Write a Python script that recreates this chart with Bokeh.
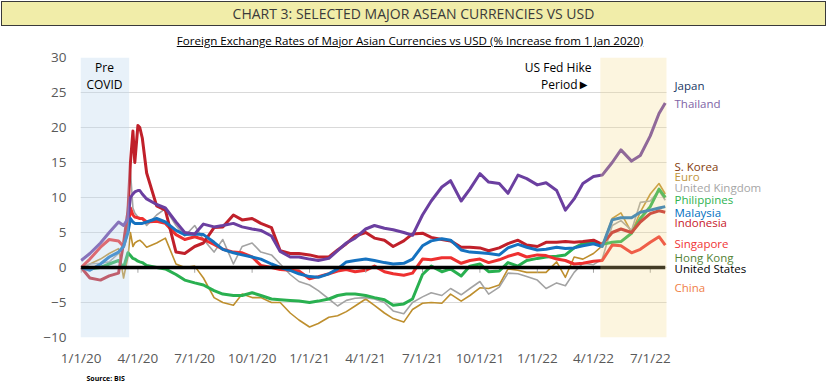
from datetime import datetime
import pandas as pd
from bokeh.plotting import figure
from bokeh.layouts import column
from bokeh.models import Range1d, FixedTicker, Label, BoxAnnotation, Div
from bokeh.embed import file_html
from bokeh.resources import INLINE

# ---------------- data ----------------
dates = ["2020-01-01", "2020-01-15", "2020-02-01", "2020-02-15", "2020-03-01", "2020-03-09",
         "2020-03-16", "2020-03-20", "2020-03-24", "2020-03-27", "2020-04-01", "2020-04-04",
         "2020-04-08", "2020-04-15",
         "2020-05-01", "2020-05-15", "2020-06-01", "2020-06-15", "2020-07-01", "2020-07-15",
         "2020-08-01", "2020-08-15", "2020-09-01", "2020-09-15", "2020-10-01", "2020-10-15",
         "2020-11-01", "2020-11-15", "2020-12-01", "2020-12-15", "2021-01-01", "2021-01-15",
         "2021-02-01", "2021-02-15", "2021-03-01", "2021-03-15", "2021-04-01", "2021-04-15",
         "2021-05-01", "2021-05-15", "2021-06-01", "2021-06-15", "2021-07-01", "2021-07-15",
         "2021-08-01", "2021-08-15", "2021-09-01", "2021-09-15", "2021-10-01", "2021-10-15",
         "2021-11-01", "2021-11-15", "2021-12-01", "2021-12-15", "2022-01-01", "2022-01-15",
         "2022-02-01", "2022-02-15", "2022-03-01", "2022-03-15", "2022-04-01", "2022-04-15",
         "2022-05-01", "2022-05-15", "2022-06-01", "2022-06-15", "2022-07-01", "2022-07-15",
         "2022-07-25"]

thailand = [1.0, 2.0, 3.5, 5.0, 6.5, 6.0, 7.0, 10.0, 10.5, 10.8, 11.0, 11.0, 10.5, 9.8, 9.0,
            8.5, 6.5, 5.0, 4.8, 6.2, 5.8, 6.0, 6.3, 5.8, 5.5, 5.3, 4.5, 2.3, 1.5, 1.5, 1.2, 1.0,
            1.3, 2.4, 3.5, 4.2, 5.5, 6.0, 5.6, 5.4, 5.0, 4.6, 7.5, 9.5, 11.5, 12.4, 9.5, 11.2,
            13.4, 12.2, 12.0, 10.6, 13.2, 12.7, 11.8, 12.1, 11.0, 8.2, 9.8, 12.0, 13.0, 13.2,
            15.0, 16.8, 15.2, 16.0, 18.8, 22.0, 23.5]
indonesia = [0.0, -1.5, -1.8, -1.2, -0.8, 3.5, 8.0, 15.0, 19.5, 15.0, 20.3, 20.0, 18.5, 13.5,
             8.8, 8.2, 2.2, 2.0, 3.0, 3.5, 5.7, 5.8, 7.5, 6.8, 7.0, 6.3, 5.7, 2.4, 2.0, 2.0, 1.8,
             1.5, 1.5, 2.5, 3.4, 4.5, 5.0, 4.2, 3.9, 3.0, 3.8, 4.8, 4.9, 4.3, 4.0, 3.8, 2.9, 2.9,
             2.8, 2.4, 2.8, 3.4, 3.9, 3.2, 3.0, 3.6, 3.6, 3.7, 3.6, 3.7, 3.9, 3.3, 5.0, 5.5, 5.0,
             6.5, 7.7, 8.1, 7.9]
malaysia = [0.0, -0.4, 0.5, 1.5, 2.2, 3.0, 5.0, 7.0, 6.5, 6.3, 6.3, 6.3, 6.3, 6.5, 7.0, 6.5, 5.3,
            4.7, 4.8, 4.7, 3.6, 2.6, 2.1, 1.8, 1.5, 1.2, 0.5, 0.0, -0.4, -0.9, -1.3, -1.4, -0.9,
            -0.2, 0.8, 1.0, 1.2, 1.0, 0.7, 0.5, 0.6, 1.2, 3.1, 3.8, 4.1, 3.9, 2.5, 2.2, 2.1, 2.0,
            1.8, 2.8, 3.3, 2.9, 2.5, 2.6, 2.9, 2.7, 2.8, 3.1, 3.4, 3.0, 6.8, 7.1, 7.1, 7.9, 8.2,
            8.5, 8.7]
singapore = [0.0, 1.2, 2.9, 4.0, 3.8, 3.0, 5.3, 8.5, 7.5, 7.2, 7.1, 7.0, 7.0, 6.5, 6.6, 6.3, 4.7,
             4.0, 4.4, 4.0, 3.3, 2.6, 2.2, 2.1, 1.5, 0.3, 0.0, -0.3, -0.4, -0.5, -1.6, -1.3,
             -0.9, -0.5, -0.3, -0.6, -0.4, 0.2, -0.6, -0.9, -1.1, -0.8, 1.2, 1.1, 1.4, 1.4, 0.6,
             1.0, 1.2, 0.7, 1.1, 1.6, 2.0, 1.5, 1.8, 1.7, 1.2, 1.0, 0.5, 0.6, 0.9, 1.0, 3.2, 3.1,
             2.1, 2.6, 3.6, 4.4, 3.2]
euro = [0.0, 0.5, 1.2, 2.0, 2.7, -1.5, 1.5, 5.0, 3.0, 3.5, 3.8, 3.9, 3.6, 2.9, 3.5, 4.2, 0.5,
        0.0, 0.2, -1.5, -4.3, -5.0, -5.4, -3.8, -4.3, -4.3, -5.0, -5.0, -6.5, -7.5, -8.5, -8.0,
        -7.1, -6.9, -6.3, -5.5, -4.5, -5.4, -6.5, -7.3, -7.8, -6.0, -5.1, -5.0, -5.1, -3.8,
        -4.8, -4.0, -2.9, -3.0, -2.5, -0.2, -0.4, -0.7, -0.7, -0.7, 0.8, -1.4, 1.5, 1.2, 2.0,
        3.1, 7.0, 7.8, 5.0, 7.9, 10.5, 12.0, 10.5]
uk = [0.0, 0.5, 0.6, 0.8, 2.0, 3.5, 9.0, 13.9, 8.5, 7.8, 7.2, 7.1, 7.0, 6.0, 7.5, 8.4, 6.0, 4.5,
      6.0, 4.0, 2.2, 4.0, 0.5, 3.0, 3.5, 2.2, 1.8, 0.5, -1.0, -2.0, -2.5, -3.3, -4.5, -5.5,
      -4.7, -4.4, -4.3, -4.5, -5.0, -6.2, -6.6, -5.0, -4.2, -3.6, -4.0, -3.0, -3.9, -3.0, -2.0,
      -3.8, -2.8, -0.8, -0.9, -1.3, -1.8, -3.0, -2.2, -2.6, -0.7, 0.6, 0.4, 1.2, 6.0, 6.7, 5.3,
      9.3, 9.5, 11.0, 9.6]
philippines = [0.0, -0.2, 0.0, 0.5, 1.0, 0.0, 2.1, 1.7, 1.3, 1.2, 0.9, 0.8, 0.7, 0.3, 0.0, -0.2,
               -1.0, -1.8, -2.2, -2.5, -3.3, -3.8, -4.0, -4.0, -3.6, -4.0, -4.5, -4.6, -4.7,
               -4.8, -5.0, -4.8, -4.5, -4.0, -3.8, -3.8, -4.0, -4.3, -4.6, -5.4, -5.2, -4.5,
               -1.0, 0.2, -0.6, -0.2, -1.2, 0.2, 0.5, -0.6, -0.5, 0.7, 0.2, 1.0, 1.3, 1.5, 1.6,
               1.8, 2.8, 3.4, 3.6, 3.3, 3.6, 3.7, 4.9, 7.0, 8.7, 11.2, 10.0]
us_dates = ["2020-01-01", "2022-07-25"]
united_states = [0.0, 0.0]

tick_dates = ["2020-01-01", "2020-04-01", "2020-07-01", "2020-10-01", "2021-01-01", "2021-04-01",
              "2021-07-01", "2021-10-01", "2022-01-01", "2022-04-01", "2022-07-01"]
tick_labels = ["1/1/20", "4/1/20", "7/1/20", "10/1/20", "1/1/21", "4/1/21", "7/1/21",
               "10/1/21", "1/1/22", "4/1/22", "7/1/22"]
y_ticks = [-10, -5, 0, 5, 10, 15, 20, 25, 30]

axis_start, axis_end = "2019-12-31", "2022-07-27"
pre_covid_end = "2020-03-18"
fed_hike_start = "2022-04-12"

legend_names = ["Japan", "Thailand", "S. Korea", "Euro", "United Kingdom", "Philippines",
                "Malaysia", "Indonesia", "Singapore", "Hong Kong", "United States", "China"]

title_text = "CHART 3: SELECTED MAJOR ASEAN CURRENCIES VS USD"
subtitle_text = ("Foreign Exchange Rates of Major Asian Currencies vs USD "
                 "(% Increase from 1 Jan 2020)")

# ---------------- helpers ----------------
def ms(s):
    return int(pd.Timestamp(s).value // 10**6)


def d(s):
    return datetime.fromisoformat(s)


dt = [d(s) for s in dates]
FONT = "Open Sans"
W = 831

# ---------------- header (title box + subtitle) ----------------
title_div = Div(text=title_text, width=825, height=25, margin=(1, 5, 0, 1),
                styles={"background-color": "#F1EDA9", "border": "1px solid #3A3A3A",
                        "box-sizing": "border-box", "text-align": "center",
                        "font-family": "Open Sans", "font-size": "14px",
                        "line-height": "23px", "color": "#3A3A3A", "overflow": "hidden"})
subtitle_div = Div(text="<u>" + subtitle_text + "</u>", width=W, height=23, margin=(0, 0, 0, 0),
                   styles={"text-align": "center", "font-family": "Open Sans",
                           "font-size": "11.6px", "line-height": "16px", "padding-top": "7px",
                           "padding-right": "11px", "box-sizing": "border-box",
                           "color": "#000000", "overflow": "hidden"})
HH = 49

# ---------------- main chart ----------------
MH = 320
FL, FT, FB, FR_DATA = 80, 57, 337, 666
frame_w = W - FL
x0, x1 = ms(axis_start), ms(axis_end)
x_end_full = x0 + (x1 - x0) * frame_w / (FR_DATA - FL)

p = figure(width=W, height=MH, x_axis_type="datetime", output_backend="svg",
           toolbar_location=None,
           min_border_left=FL, min_border_right=0, min_border_top=FT - HH,
           min_border_bottom=(HH + MH) - FB,
           x_range=Range1d(x0, x_end_full), y_range=Range1d(-10, 30))
p.outline_line_color = None
p.background_fill_color = "white"
p.border_fill_color = "white"
p.xgrid.grid_line_color = None
p.ygrid.grid_line_color = "#D9D9D9"
p.ygrid.grid_line_width = 1

p.yaxis.ticker = FixedTicker(ticks=y_ticks)
p.yaxis.axis_line_color = None
p.yaxis.major_tick_line_color = None
p.yaxis.minor_tick_line_color = None
p.yaxis.major_tick_out = 0
p.yaxis.major_tick_in = 0
p.yaxis.major_label_standoff = 14
p.yaxis.major_label_text_font = FONT
p.yaxis.major_label_text_font_size = "13.5px"
p.yaxis.major_label_text_color = "#595959"

tick_ms = [ms(t) for t in tick_dates]
p.xaxis.ticker = FixedTicker(ticks=tick_ms)
p.xaxis.major_label_overrides = {t: l for t, l in zip(tick_ms, tick_labels)}
p.xaxis.axis_line_color = None
p.xaxis.major_tick_line_color = None
p.xaxis.minor_tick_line_color = None
p.xaxis.major_tick_out = 0
p.xaxis.major_tick_in = 0
p.xaxis.major_label_standoff = 11
p.xaxis.major_label_text_font = FONT
p.xaxis.major_label_text_font_size = "13.5px"
p.xaxis.major_label_text_color = "#595959"

# white panel to the right of the data area (hides grid lines under the names)
p.quad(left=[x1], right=[x_end_full], top=[30], bottom=[-10], fill_color="white",
       line_color=None)

series = [
    (euro, "#BE8F2E", 1.6),
    (uk, "#A3A3A3", 1.6),
    (philippines, "#29B050", 3),
    (singapore, "#EE3030", 3),
    (indonesia, "#C0202A", 3),
    (malaysia, "#1572C0", 3),
    (thailand, "#6B3FA0", 3),
]
for vals, col, w in series:
    p.line(x=dt, y=vals, line_color=col, line_width=w, line_join="round")

# pre-COVID shading (over the lines, light)
p.quad(left=[d(axis_start)], right=[d(pre_covid_end)], top=[30], bottom=[-10],
       fill_color="#BED7EE", fill_alpha=0.35, line_color=None)

# tick marks on the zero line
p.segment(x0=[d(t) for t in tick_dates], y0=[0] * len(tick_dates),
          x1=[d(t) for t in tick_dates], y1=[-0.75] * len(tick_dates),
          line_color="#A6A6A6", line_width=1)

# United States (zero line)
p.line(x=[d(s) for s in us_dates], y=united_states, line_color="black", line_width=3.5)

# Fed hike shading
p.add_layout(BoxAnnotation(left=ms(fed_hike_start), right=x1, fill_color="#F5D98A",
                           fill_alpha=0.27, line_color=None, level="annotation"))


def label(text, px, py, size, color, align="left", font=FONT):
    p.add_layout(Label(x=px - FL, y=FB - py, x_units="screen", y_units="screen", text=text,
                       text_align=align, text_baseline="middle", text_font=font,
                       text_font_size=size, text_color=color))


label("Pre", 104, 67, "12px", "#000000", align="center")
label("COVID", 104, 84, "12px", "#000000", align="center")
label("US Fed Hike", 591, 67, "12px", "#000000", align="right")
label("Period", 577, 84, "12px", "#000000", align="right")
label("\u25B6", 583, 84, "10px", "#000000", align="center", font="DejaVu Sans")

legend_colors = ["#203864", "#7E63A6", "#843C0C", "#C0943C", "#A6A6A6", "#2DB24F",
                 "#0070C0", "#C8202A", "#F03535", "#548235", "#000000", "#F08048"]
legend_py = [85, 103, 166, 176, 187, 199, 212, 222, 243, 257, 268, 287]
for name, col, py in zip(legend_names, legend_colors, legend_py):
    label(name, 674, py, "11.5px", col)

# ---------------- footer ----------------
FH = 387 - HH - MH
foot = figure(width=W, height=FH, output_backend="svg", toolbar_location=None,
              x_range=Range1d(FL, W), y_range=Range1d(FH, 0),
              x_axis_location=None, y_axis_location=None,
              min_border_left=FL, min_border_right=0,
              min_border_top=0, min_border_bottom=0)
foot.outline_line_color = None
foot.grid.visible = False
foot.add_layout(Label(x=86, y=378 - HH - MH, text="Source: BIS", text_align="left",
                      text_baseline="middle", text_font=FONT, text_font_size="7px",
                      text_font_style="bold", text_color="#000000"))

layout = column(title_div, subtitle_div, p, foot, spacing=0)
open("out.html", "w").write(file_html(layout, INLINE))
